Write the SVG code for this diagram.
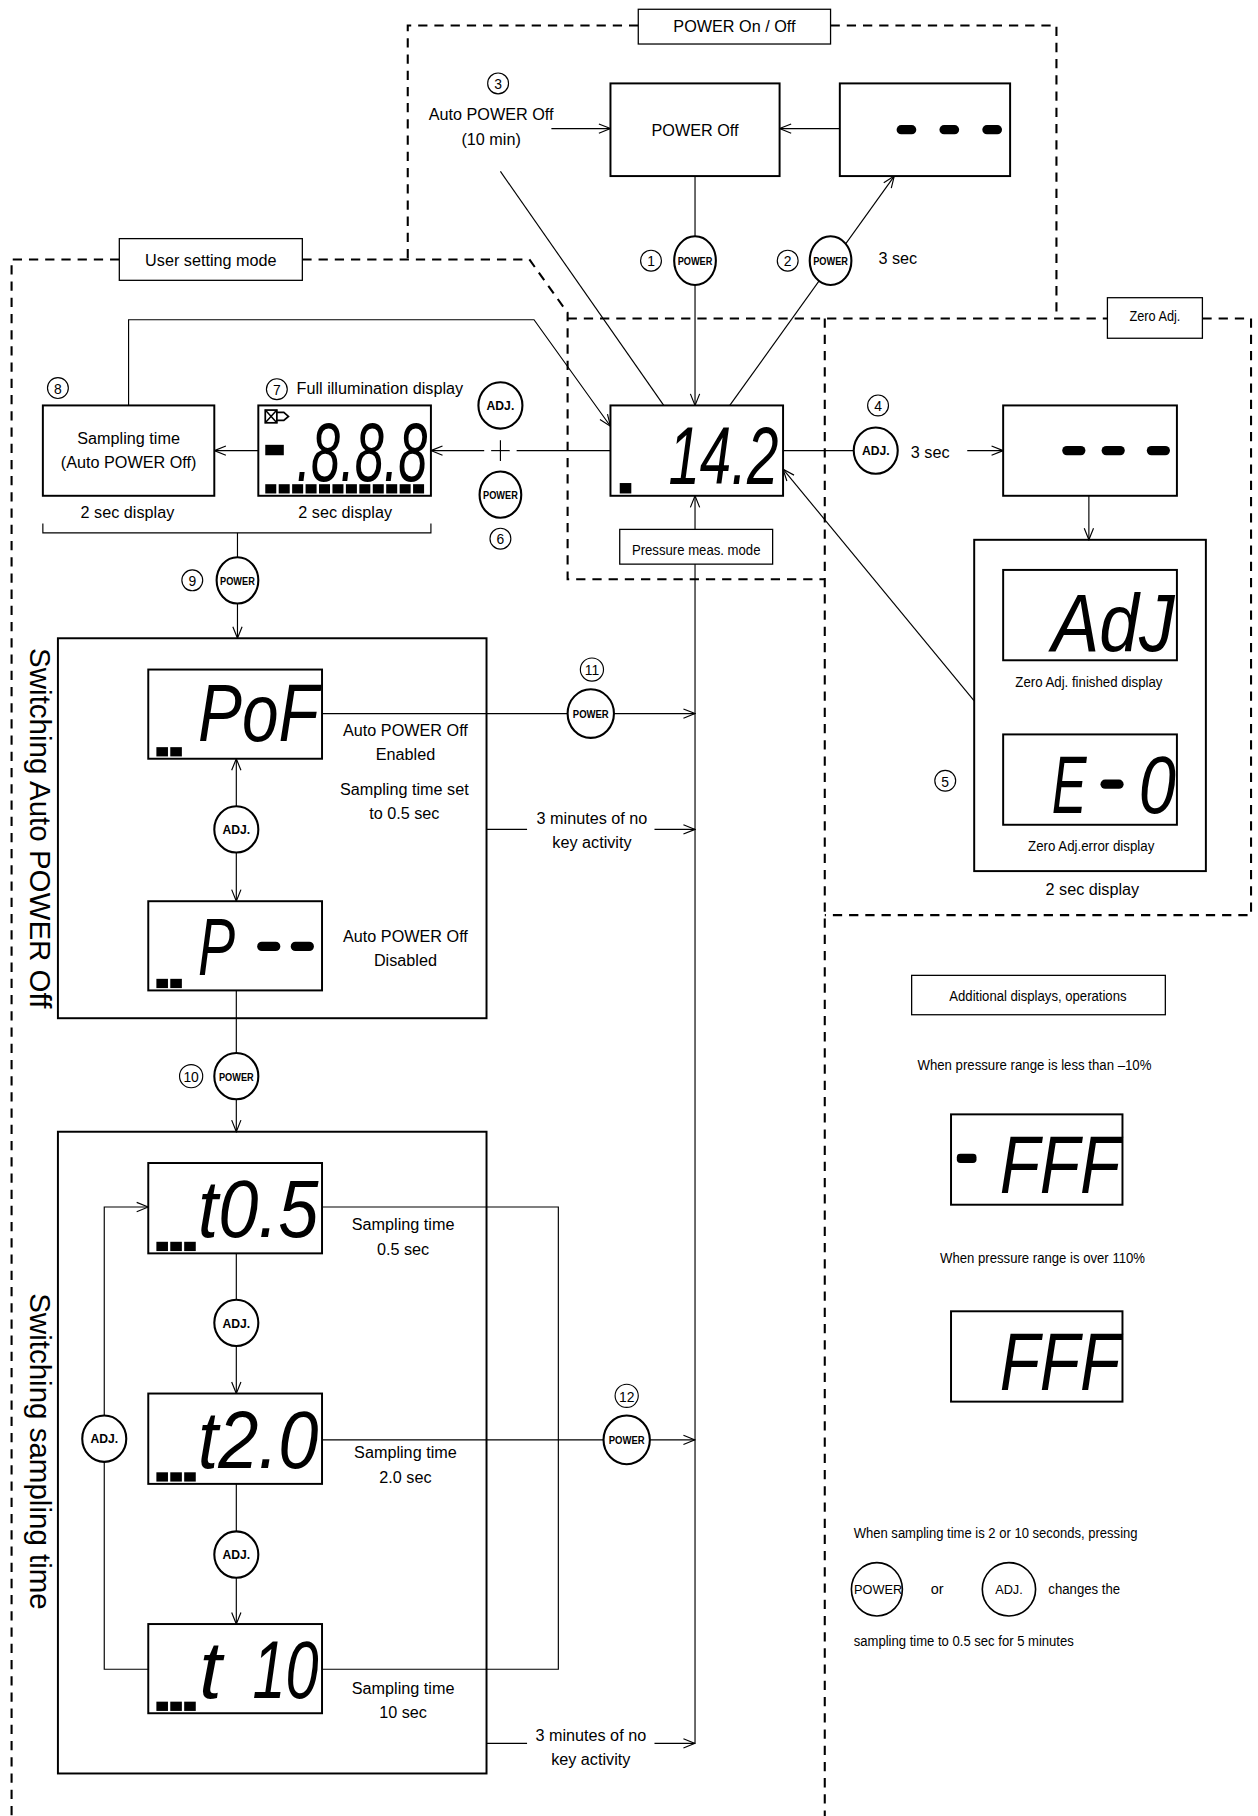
<svg xmlns="http://www.w3.org/2000/svg" width="1258" height="1816" viewBox="0 0 1258 1816">
<style>
.box{fill:#fff;stroke:#000;stroke-width:1.7}
.cont{fill:none;stroke:#000;stroke-width:1.7}
.lbl{fill:#fff;stroke:#000;stroke-width:1.1}
.dash{fill:none;stroke:#000;stroke-width:1.8;stroke-dasharray:8 6}
.ln{fill:none;stroke:#000;stroke-width:1}
.btn{fill:#fff;stroke:#000;stroke-width:1.8}
.num{fill:#fff;stroke:#000;stroke-width:1}
.t{font-family:'Liberation Sans Narrow','Liberation Sans',Arial,sans-serif;font-size:14px;fill:#000;text-anchor:middle}
.s{font-size:12.5px}
.st{text-anchor:start}
.bt{font-family:'Liberation Sans',Arial,sans-serif;font-weight:bold;font-size:9.5px;text-anchor:middle}
.ba{font-size:10.5px}
.nt{font-family:'Liberation Sans',Arial,sans-serif;font-size:12px;text-anchor:middle}
.lcd{font-family:'Liberation Sans',Arial,sans-serif;font-style:italic;font-size:70px;fill:#000}
.title{font-family:'Liberation Sans',Arial,sans-serif;font-size:25.5px;text-anchor:middle}
.seg{fill:#000}
</style>
<defs>
<marker id="ah" markerWidth="12" markerHeight="10" refX="11" refY="5" orient="auto" markerUnits="userSpaceOnUse">
<path d="M1,1 L11,5 L1,9" fill="none" stroke="#000" stroke-width="1"/>
</marker>
</defs>
<rect x="0" y="0" width="1258" height="1816" fill="#fff"/>
<g transform="scale(1.15838)">

<g id="regions">
<path class="dash" d="M551,22 H352 V224"/>
<path class="dash" d="M717,22 H912 V275"/>
<path class="dash" d="M103,224 H10 V1568"/>
<path class="dash" d="M261,224 H457 L490,270 V500 H712"/>
<path class="dash" d="M490,275 H956"/>
<path class="dash" d="M712,275 V1568"/>
<path class="dash" d="M1038,275 H1080 V790 H712"/>
</g>

<g id="connectors">
<line class="ln" x1="476" y1="111" x2="527" y2="111" marker-end="url(#ah)"/>
<line class="ln" x1="725" y1="111" x2="673" y2="111" marker-end="url(#ah)"/>
<line class="ln" x1="600" y1="152" x2="600" y2="350" marker-end="url(#ah)"/>
<line class="ln" x1="630" y1="350" x2="772" y2="152" marker-end="url(#ah)"/>
<line class="ln" x1="432" y1="148" x2="573" y2="350"/>
<line class="ln" x1="676" y1="389" x2="740" y2="389"/>
<line class="ln" x1="835" y1="389" x2="866" y2="389" marker-end="url(#ah)"/>
<line class="ln" x1="940" y1="428" x2="940" y2="466" marker-end="url(#ah)"/>
<line class="ln" x1="841" y1="605" x2="676" y2="405" marker-end="url(#ah)"/>
<line class="ln" x1="527" y1="389" x2="446" y2="389"/>
<line class="ln" x1="424" y1="389" x2="440" y2="389"/>
<line class="ln" x1="432" y1="380" x2="432" y2="398"/>
<line class="ln" x1="418" y1="389" x2="372" y2="389" marker-end="url(#ah)"/>
<line class="ln" x1="223" y1="389" x2="185" y2="389" marker-end="url(#ah)"/>
<path class="ln" d="M111,350 V276 H461 L527,368" marker-end="url(#ah)"/>
<path class="ln" d="M37,452 V460 H372 V452"/>
<line class="ln" x1="205" y1="460" x2="205" y2="551" marker-end="url(#ah)"/>
<line class="ln" x1="278" y1="616" x2="600" y2="616" marker-end="url(#ah)"/>
<line class="ln" x1="420" y1="716" x2="455" y2="716"/>
<line class="ln" x1="565" y1="716" x2="600" y2="716" marker-end="url(#ah)"/>
<line class="ln" x1="204" y1="716" x2="204" y2="655" marker-end="url(#ah)"/>
<line class="ln" x1="204" y1="716" x2="204" y2="778" marker-end="url(#ah)"/>
<line class="ln" x1="204" y1="855" x2="204" y2="977" marker-end="url(#ah)"/>
<line class="ln" x1="204" y1="1082" x2="204" y2="1203" marker-end="url(#ah)"/>
<line class="ln" x1="204" y1="1281" x2="204" y2="1402" marker-end="url(#ah)"/>
<path class="ln" d="M128,1441 H90 V1042 H128" marker-end="url(#ah)"/>
<path class="ln" d="M278,1042 H482 V1441 H278"/>
<line class="ln" x1="278" y1="1243" x2="600" y2="1243" marker-end="url(#ah)"/>
<line class="ln" x1="420" y1="1505" x2="455" y2="1505"/>
<line class="ln" x1="565" y1="1505" x2="600" y2="1505" marker-end="url(#ah)"/>
<line class="ln" x1="600" y1="1505" x2="600" y2="428" marker-end="url(#ah)"/>
</g>

<g id="label-power-onoff">
<rect class="lbl" x="551" y="8" width="166" height="30"/>
<text class="t" x="634" y="28">POWER On / Off</text>
</g>
<g id="label-user-setting">
<rect class="lbl" x="103" y="206" width="158" height="36"/>
<text class="t" x="182" y="230">User setting mode</text>
</g>
<g id="label-zero-adj">
<rect class="lbl" x="956" y="257" width="82" height="35"/>
<text class="t s" x="997" y="277" textLength="44" lengthAdjust="spacingAndGlyphs">Zero Adj.</text>
</g>
<g id="label-pressure-mode">
<rect class="lbl" x="535" y="457" width="132" height="30"/>
<text class="t s" x="601" y="479" textLength="111" lengthAdjust="spacingAndGlyphs">Pressure meas. mode</text>
</g>
<g id="label-additional">
<rect class="lbl" x="787" y="842" width="219" height="34"/>
<text class="t s" x="896" y="864" textLength="153" lengthAdjust="spacingAndGlyphs">Additional displays, operations</text>
</g>

<g id="auto-power-off-note">
<circle class="num" cx="430" cy="72" r="9"/><text class="nt" x="430" y="77">3</text>
<text class="t" x="424" y="104">Auto POWER Off</text>
<text class="t" x="424" y="125">(10 min)</text>
</g>

<g id="power-off">
<rect class="box" x="527" y="72" width="146" height="80"/>
<text class="t" x="600" y="117">POWER Off</text>
</g>

<g id="dashes-top">
<rect class="box" x="725" y="72" width="147" height="80"/>
<rect class="seg" x="774" y="108" width="17" height="8" rx="4"/>
<rect class="seg" x="811" y="108" width="17" height="8" rx="4"/>
<rect class="seg" x="848" y="108" width="17" height="8" rx="4"/>
</g>

<g id="btn1">
<circle class="num" cx="562" cy="225" r="9"/><text class="nt" x="562" y="230">1</text>
<ellipse class="btn" cx="600" cy="225" rx="18" ry="21"/><text class="bt" x="600" y="229" textLength="30" lengthAdjust="spacingAndGlyphs">POWER</text>
</g>
<g id="btn2">
<circle class="num" cx="680" cy="225" r="9"/><text class="nt" x="680" y="230">2</text>
<ellipse class="btn" cx="717" cy="225" rx="18" ry="21"/><text class="bt" x="717" y="229" textLength="30" lengthAdjust="spacingAndGlyphs">POWER</text>
<text class="t" x="775" y="228">3 sec</text>
</g>

<g id="display-14-2">
<rect class="box" x="527" y="350" width="149" height="78"/>
<text class="lcd" x="577" y="418" textLength="95" lengthAdjust="spacingAndGlyphs">14.2</text>
<rect class="seg" x="535" y="417" width="10" height="9"/>
</g>

<g id="btn4">
<circle class="num" cx="758" cy="350" r="9"/><text class="nt" x="758" y="355">4</text>
<ellipse class="btn" cx="756" cy="389" rx="19" ry="20"/><text class="bt ba" x="756" y="393">ADJ.</text>
<text class="t" x="803" y="395">3 sec</text>
</g>

<g id="display-zero-dashes">
<rect class="box" x="866" y="350" width="150" height="78"/>
<rect class="seg" x="917" y="385" width="20" height="8" rx="4"/>
<rect class="seg" x="951" y="385" width="20" height="8" rx="4"/>
<rect class="seg" x="990" y="385" width="20" height="8" rx="4"/>
</g>

<g id="zero-result">
<rect class="cont" x="841" y="466" width="200" height="286"/>
<rect class="box" x="866" y="492" width="150" height="78"/>
<text class="lcd" x="908" y="562" textLength="106" lengthAdjust="spacingAndGlyphs">AdJ</text>
<text class="t s" x="940" y="593" textLength="127" lengthAdjust="spacingAndGlyphs">Zero Adj. finished display</text>
<rect class="box" x="866" y="634" width="150" height="78"/>
<text class="lcd" x="908" y="702" textLength="30" lengthAdjust="spacingAndGlyphs">E</text>
<rect class="seg" x="950" y="673" width="20" height="8" rx="4"/>
<text class="lcd" x="983" y="702" textLength="32" lengthAdjust="spacingAndGlyphs">0</text>
<text class="t s" x="942" y="735" textLength="109" lengthAdjust="spacingAndGlyphs">Zero Adj.error display</text>
<text class="t" x="943" y="773">2 sec display</text>
<circle class="num" cx="816" cy="674" r="9"/><text class="nt" x="816" y="679">5</text>
</g>

<g id="btn6">
<ellipse class="btn" cx="432" cy="350" rx="19" ry="20"/><text class="bt ba" x="432" y="354">ADJ.</text>
<ellipse class="btn" cx="432" cy="427" rx="18" ry="20"/><text class="bt" x="432" y="431" textLength="30" lengthAdjust="spacingAndGlyphs">POWER</text>
<circle class="num" cx="432" cy="465" r="9"/><text class="nt" x="432" y="470">6</text>
</g>

<g id="display-full">
<circle class="num" cx="239" cy="336" r="9"/><text class="nt" x="239" y="341">7</text>
<text class="t st" x="256" y="340">Full illumination display</text>
<rect class="box" x="223" y="350" width="149" height="78"/>
<rect x="229" y="354" width="10" height="11" fill="none" stroke="#000" stroke-width="1.5"/>
<path d="M229,354 L239,365 M239,354 L229,365" stroke="#000" stroke-width="1.3"/>
<path d="M239,356 H245 L249,359.5 L245,363 H239" fill="none" stroke="#000" stroke-width="1.5"/>
<rect class="seg" x="229" y="384" width="16" height="9"/>
<text class="lcd" style="font-size:45px" x="0" y="0" transform="translate(256,415) scale(1,1.6)" textLength="113" lengthAdjust="spacingAndGlyphs">.8.8.8</text>
<g class="seg">
<rect x="229" y="418" width="9.5" height="8"/><rect x="240.6" y="418" width="9.5" height="8"/><rect x="252.2" y="418" width="9.5" height="8"/><rect x="263.8" y="418" width="9.5" height="8"/><rect x="275.4" y="418" width="9.5" height="8"/><rect x="287" y="418" width="9.5" height="8"/><rect x="298.6" y="418" width="9.5" height="8"/><rect x="310.2" y="418" width="9.5" height="8"/><rect x="321.8" y="418" width="9.5" height="8"/><rect x="333.4" y="418" width="9.5" height="8"/><rect x="345" y="418" width="9.5" height="8"/><rect x="356.6" y="418" width="9.5" height="8"/>
</g>
<text class="t" x="298" y="447">2 sec display</text>
</g>

<g id="sampling-box">
<circle class="num" cx="50" cy="335" r="9"/><text class="nt" x="50" y="340">8</text>
<rect class="box" x="37" y="350" width="148" height="78"/>
<text class="t" x="111" y="383">Sampling time</text>
<text class="t" x="111" y="404">(Auto POWER Off)</text>
<text class="t" x="110" y="447">2 sec display</text>
</g>

<g id="btn9">
<circle class="num" cx="166" cy="501" r="9"/><text class="nt" x="166" y="506">9</text>
<ellipse class="btn" cx="205" cy="501" rx="18" ry="20"/><text class="bt" x="205" y="505" textLength="30" lengthAdjust="spacingAndGlyphs">POWER</text>
</g>

<g id="auto-power-off-switch">
<rect class="cont" x="50" y="551" width="370" height="328"/>
<text class="title" transform="translate(26,715) rotate(90)">Switching Auto POWER Off</text>
<rect class="box" x="128" y="578" width="150" height="77"/>
<text class="lcd" x="171" y="640" textLength="104" lengthAdjust="spacingAndGlyphs">PoF</text>
<rect class="seg" x="135" y="645" width="10" height="8"/><rect class="seg" x="147" y="645" width="10" height="8"/>
<text class="t" x="350" y="635">Auto POWER Off</text>
<text class="t" x="350" y="656">Enabled</text>
<text class="t" x="349" y="686">Sampling time set</text>
<text class="t" x="349" y="707">to 0.5 sec</text>
<ellipse class="btn" cx="204" cy="716" rx="19" ry="20"/><text class="bt ba" x="204" y="720">ADJ.</text>
<rect class="box" x="128" y="778" width="150" height="77"/>
<text class="lcd" x="171" y="842" textLength="32" lengthAdjust="spacingAndGlyphs">P</text>
<rect class="seg" x="222" y="813" width="20" height="8" rx="4"/>
<rect class="seg" x="251" y="813" width="20" height="8" rx="4"/>
<rect class="seg" x="135" y="845" width="10" height="8"/><rect class="seg" x="147" y="845" width="10" height="8"/>
<text class="t" x="350" y="813">Auto POWER Off</text>
<text class="t" x="350" y="834">Disabled</text>
</g>

<g id="btn11">
<circle class="num" cx="511" cy="578" r="10"/><text class="nt" x="511" y="583">11</text>
<ellipse class="btn" cx="510" cy="616" rx="20" ry="21"/><text class="bt" x="510" y="620" textLength="31" lengthAdjust="spacingAndGlyphs">POWER</text>
<text class="t" x="511" y="711">3 minutes of no</text>
<text class="t" x="511" y="732">key activity</text>
</g>

<g id="btn10">
<circle class="num" cx="165" cy="929" r="10"/><text class="nt" x="165" y="934">10</text>
<ellipse class="btn" cx="204" cy="929" rx="19" ry="20"/><text class="bt" x="204" y="933" textLength="30" lengthAdjust="spacingAndGlyphs">POWER</text>
</g>

<g id="sampling-switch">
<rect class="cont" x="50" y="977" width="370" height="554"/>
<text class="title" transform="translate(26,1253) rotate(90)">Switching sampling time</text>
<rect class="box" x="128" y="1004" width="150" height="78"/>
<text class="lcd" x="171" y="1068" textLength="104" lengthAdjust="spacingAndGlyphs">t0.5</text>
<rect class="seg" x="135" y="1072" width="10" height="8"/><rect class="seg" x="147" y="1072" width="10" height="8"/><rect class="seg" x="159" y="1072" width="10" height="8"/>
<text class="t" x="348" y="1062">Sampling time</text>
<text class="t" x="348" y="1083">0.5 sec</text>
<ellipse class="btn" cx="204" cy="1142" rx="19" ry="20"/><text class="bt ba" x="204" y="1146">ADJ.</text>
<rect class="box" x="128" y="1203" width="150" height="78"/>
<text class="lcd" x="171" y="1267" textLength="104" lengthAdjust="spacingAndGlyphs">t2.0</text>
<rect class="seg" x="135" y="1271" width="10" height="8"/><rect class="seg" x="147" y="1271" width="10" height="8"/><rect class="seg" x="159" y="1271" width="10" height="8"/>
<text class="t" x="350" y="1259">Sampling time</text>
<text class="t" x="350" y="1280">2.0 sec</text>
<ellipse class="btn" cx="204" cy="1342" rx="19" ry="20"/><text class="bt ba" x="204" y="1346">ADJ.</text>
<rect class="box" x="128" y="1402" width="150" height="77"/>
<text class="lcd" x="172" y="1466">t</text>
<text class="lcd" x="218" y="1466" textLength="57" lengthAdjust="spacingAndGlyphs">10</text>
<rect class="seg" x="135" y="1469" width="10" height="8"/><rect class="seg" x="147" y="1469" width="10" height="8"/><rect class="seg" x="159" y="1469" width="10" height="8"/>
<text class="t" x="348" y="1462">Sampling time</text>
<text class="t" x="348" y="1483">10 sec</text>
<ellipse class="btn" cx="90" cy="1242" rx="19" ry="20"/><text class="bt ba" x="90" y="1246">ADJ.</text>
</g>

<g id="btn12">
<circle class="num" cx="541" cy="1205" r="10"/><text class="nt" x="541" y="1210">12</text>
<ellipse class="btn" cx="541" cy="1243" rx="20" ry="21"/><text class="bt" x="541" y="1247" textLength="31" lengthAdjust="spacingAndGlyphs">POWER</text>
<text class="t" x="510" y="1503">3 minutes of no</text>
<text class="t" x="510" y="1524">key activity</text>
</g>

<g id="additional">
<text class="t s" x="893" y="924" textLength="202" lengthAdjust="spacingAndGlyphs">When pressure range is less than –10%</text>
<rect class="box" x="821" y="962" width="148" height="78"/>
<rect class="seg" x="826" y="996" width="17" height="8" rx="3"/>
<text class="lcd" x="863" y="1030" textLength="104" lengthAdjust="spacingAndGlyphs">FFF</text>
<text class="t s" x="900" y="1090" textLength="177" lengthAdjust="spacingAndGlyphs">When pressure range is over 110%</text>
<rect class="box" x="821" y="1132" width="148" height="78"/>
<text class="lcd" x="863" y="1200" textLength="104" lengthAdjust="spacingAndGlyphs">FFF</text>
<text class="t s st" x="737" y="1328" textLength="245" lengthAdjust="spacingAndGlyphs">When sampling time is 2 or 10 seconds, pressing</text>
<ellipse cx="757" cy="1372" rx="22" ry="23" fill="#fff" stroke="#000" stroke-width="1.4"/>
<text class="nt" x="758" y="1376" style="font-size:11px">POWER</text>
<text class="t s" x="809" y="1376">or</text>
<ellipse cx="871" cy="1372" rx="23" ry="23" fill="#fff" stroke="#000" stroke-width="1.4"/>
<text class="nt" x="871" y="1376" style="font-size:11px">ADJ.</text>
<text class="t s st" x="905" y="1376" textLength="62" lengthAdjust="spacingAndGlyphs">changes the</text>
<text class="t s st" x="737" y="1421" textLength="190" lengthAdjust="spacingAndGlyphs">sampling time to 0.5 sec for 5 minutes</text>
</g>

</g>
</svg>
